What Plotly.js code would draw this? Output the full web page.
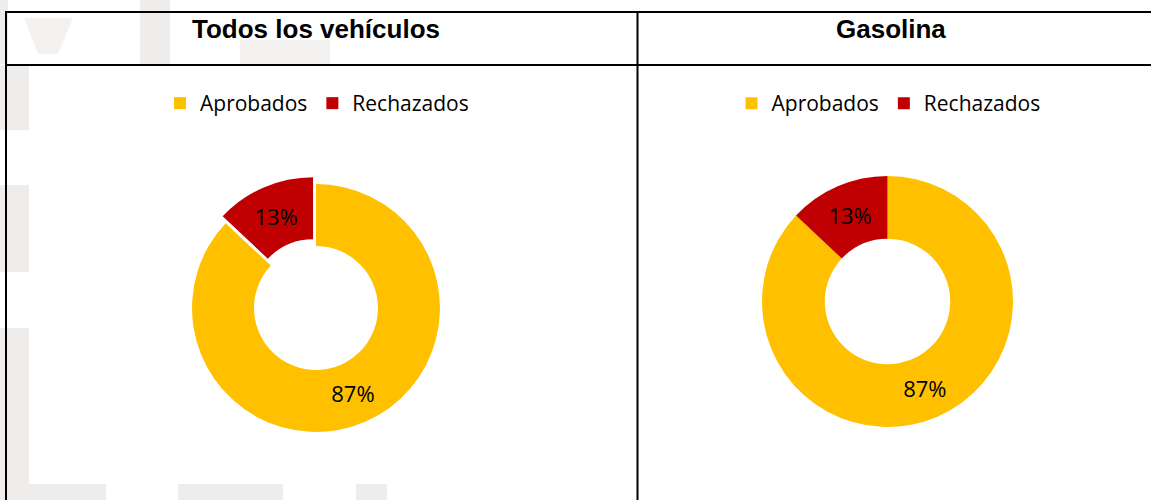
<!DOCTYPE html>
<html>
<head>
<meta charset="utf-8">
<script src="https://cdn.plot.ly/plotly-3.0.1.min.js"></script>
<style>
  html, body { margin: 0; padding: 0; background: #ffffff; }
  #chart { width: 1151px; height: 500px; }
</style>
</head>
<body>
<div id="chart"></div>
<script>
// ---- data ----
const labels = ['Aprobados', 'Rechazados'];
const todosValues = [87, 13];
const gasolinaValues = [87, 13];
const panelTitles = ['Todos los vehículos', 'Gasolina'];
const sliceColors = ['#FFC000', '#C00000'];
const todosPull = [0, 0.06];

// ---- helpers (pixel -> paper) ----
const W = 1151, H = 500;
const X = px => px / W;
const Y = py => 1 - py / H;

const labelFont = { family: 'Open Sans, sans-serif', size: 22, color: '#000000' };

const traces = [
  {
    type: 'pie',
    labels: labels,
    values: todosValues,
    hole: 0.5,
    sort: false,
    direction: 'clockwise',
    rotation: 0,
    pull: todosPull,
    marker: { colors: sliceColors, line: { width: 0 } },
    texttemplate: '%{percent:.0%}',
    textposition: 'inside',
    insidetextorientation: 'horizontal',
    textfont: labelFont,
    domain: { x: [X(184.6), X(447.4)], y: [Y(439.4), Y(176.6)] },
    legend: 'legend',
    legendgroup: 'todos',
    hoverinfo: 'label+percent'
  },
  {
    type: 'pie',
    labels: labels,
    values: gasolinaValues,
    hole: 0.5,
    sort: false,
    direction: 'clockwise',
    rotation: 0,
    marker: { colors: sliceColors, line: { width: 0 } },
    texttemplate: '%{percent:.0%}',
    textposition: 'inside',
    insidetextorientation: 'horizontal',
    textfont: labelFont,
    domain: { x: [X(762), X(1013)], y: [Y(427), Y(176)] },
    legend: 'legend2',
    legendgroup: 'gasolina',
    hoverinfo: 'label+percent'
  }
];

const wm = '#EEEDEB';
const rect = (x0, y0, x1, y1, color) => ({
  type: 'rect', xref: 'paper', yref: 'paper', layer: 'below',
  x0: X(x0), x1: X(x1), y0: Y(y1), y1: Y(y0),
  fillcolor: color, line: { width: 0 }
});
const poly = (pts, color) => ({
  type: 'path', xref: 'paper', yref: 'paper', layer: 'below',
  path: 'M' + pts.map(p => X(p[0]) + ',' + Y(p[1])).join('L') + 'Z',
  fillcolor: color, line: { width: 0 }
});
const line = (x0, y0, x1, y1, w) => ({
  type: 'line', xref: 'paper', yref: 'paper', layer: 'above',
  x0: X(x0), x1: X(x1), y0: Y(y0), y1: Y(y1),
  line: { color: '#000000', width: w }
});

const shapes = [
  // faint watermark blocks
  rect(0, 0, 8, 64, wm),
  poly([[24, 18], [73, 18], [58, 54], [38, 54]], '#F3F2F0'),
  rect(140, 0, 170, 64, wm),
  rect(240, 40, 330, 64, '#F3F2F0'),
  rect(0, 65, 29, 130, wm),
  rect(0, 185, 29, 272, wm),
  rect(0, 328, 29, 500, wm),
  rect(29, 484, 106, 500, wm),
  rect(178, 484, 283, 500, wm),
  rect(356, 484, 387, 500, wm),
  // white chart area of left cell
  rect(29, 66, 600, 484, '#FFFFFF'),
  // table borders
  line(5, 12, 1151, 12, 2),
  line(5, 65, 1151, 65, 2),
  line(6, 11, 6, 500, 2),
  line(637.5, 11, 637.5, 500, 2)
];

const titleFont = { family: 'Liberation Sans, Arial, sans-serif', size: 26, color: '#000000' };
const annotations = [
  { text: '<b>' + panelTitles[0] + '</b>', x: X(315.5), y: Y(29), xref: 'paper', yref: 'paper',
    xanchor: 'center', yanchor: 'middle', showarrow: false, font: titleFont },
  { text: '<b>' + panelTitles[1] + '</b>', x: X(890.5), y: Y(29), xref: 'paper', yref: 'paper',
    xanchor: 'center', yanchor: 'middle', showarrow: false, font: titleFont }
];

const legendBase = {
  orientation: 'h',
  xanchor: 'center',
  yanchor: 'middle',
  y: Y(103.5),
  bgcolor: 'rgba(0,0,0,0)',
  font: { family: 'Open Sans, sans-serif', size: 21, color: '#000000' },
  traceorder: 'normal'
};

const layout = {
  width: W,
  height: H,
  margin: { l: 0, r: 0, t: 0, b: 0, pad: 0 },
  paper_bgcolor: '#FFFFFF',
  showlegend: true,
  legend: Object.assign({}, legendBase, { x: X(317) }),
  legend2: Object.assign({}, legendBase, { x: X(888.5) }),
  shapes: shapes,
  annotations: annotations
};

Plotly.newPlot('chart', traces, layout, { displayModeBar: false, staticPlot: true });
</script>
</body>
</html>
